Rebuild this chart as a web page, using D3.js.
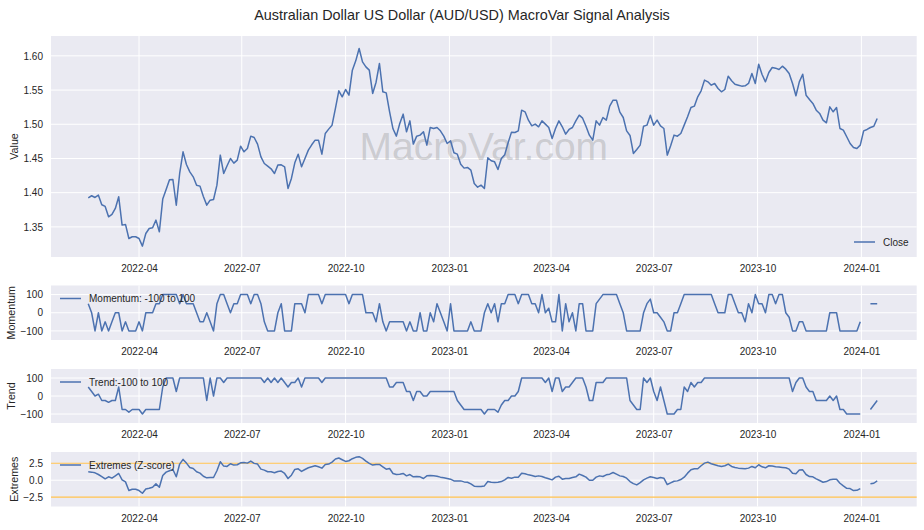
<!DOCTYPE html>
<html><head><meta charset="utf-8">
<script src="https://cdn.jsdelivr.net/npm/d3@7"></script>
<style>body{margin:0;background:#fff}svg{display:block}</style>
</head><body><svg id="c" width="924" height="530"></svg>
<script>
const titleText = "Australian Dollar US Dollar (AUD/USD) MacroVar Signal Analysis";
const dates = [
"2022-02-15","2022-02-18","2022-02-21","2022-02-24","2022-02-27",
"2022-03-02","2022-03-05","2022-03-08","2022-03-11","2022-03-14","2022-03-17","2022-03-20","2022-03-23","2022-03-26","2022-03-29",
"2022-04-01","2022-04-04","2022-04-07","2022-04-10","2022-04-13","2022-04-16","2022-04-19","2022-04-22","2022-04-25","2022-04-28",
"2022-05-01","2022-05-04","2022-05-07","2022-05-10","2022-05-13","2022-05-16","2022-05-19","2022-05-22","2022-05-25","2022-05-28","2022-05-31",
"2022-06-03","2022-06-06","2022-06-09","2022-06-12","2022-06-15","2022-06-18","2022-06-21","2022-06-24","2022-06-27","2022-06-30",
"2022-07-03","2022-07-06","2022-07-09","2022-07-12","2022-07-15","2022-07-18","2022-07-21","2022-07-24","2022-07-27","2022-07-30",
"2022-08-02","2022-08-05","2022-08-08","2022-08-11","2022-08-14","2022-08-17","2022-08-20","2022-08-23","2022-08-26","2022-08-29",
"2022-09-01","2022-09-04","2022-09-07","2022-09-10","2022-09-13","2022-09-16","2022-09-19","2022-09-22","2022-09-25","2022-09-28",
"2022-10-01","2022-10-04","2022-10-07","2022-10-10","2022-10-13","2022-10-16","2022-10-19","2022-10-22","2022-10-25","2022-10-28","2022-10-31",
"2022-11-03","2022-11-06","2022-11-09","2022-11-12","2022-11-15","2022-11-18","2022-11-21","2022-11-24","2022-11-27","2022-11-30",
"2022-12-03","2022-12-06","2022-12-09","2022-12-12","2022-12-15","2022-12-18","2022-12-21","2022-12-24","2022-12-27","2022-12-30",
"2023-01-02","2023-01-05","2023-01-08","2023-01-11","2023-01-14","2023-01-17","2023-01-20","2023-01-23","2023-01-26","2023-01-29",
"2023-02-01","2023-02-04","2023-02-07","2023-02-10","2023-02-13","2023-02-16","2023-02-19","2023-02-22","2023-02-25","2023-02-28",
"2023-03-03","2023-03-06","2023-03-09","2023-03-12","2023-03-15","2023-03-18","2023-03-21","2023-03-24","2023-03-27","2023-03-30",
"2023-04-02","2023-04-05","2023-04-08","2023-04-11","2023-04-14","2023-04-17","2023-04-20","2023-04-23","2023-04-26","2023-04-29",
"2023-05-02","2023-05-05","2023-05-08","2023-05-11","2023-05-14","2023-05-17","2023-05-20","2023-05-23","2023-05-26","2023-05-29",
"2023-06-01","2023-06-04","2023-06-07","2023-06-10","2023-06-13","2023-06-16","2023-06-19","2023-06-22","2023-06-25","2023-06-28",
"2023-07-01","2023-07-04","2023-07-07","2023-07-10","2023-07-13","2023-07-16","2023-07-19","2023-07-22","2023-07-25","2023-07-28","2023-07-31",
"2023-08-03","2023-08-06","2023-08-09","2023-08-12","2023-08-15","2023-08-18","2023-08-21","2023-08-24","2023-08-27","2023-08-30",
"2023-09-02","2023-09-05","2023-09-08","2023-09-11","2023-09-14","2023-09-17","2023-09-20","2023-09-23","2023-09-26","2023-09-29",
"2023-10-02","2023-10-05","2023-10-08","2023-10-11","2023-10-14","2023-10-17","2023-10-20","2023-10-23","2023-10-26","2023-10-29",
"2023-11-01","2023-11-04","2023-11-07","2023-11-10","2023-11-13","2023-11-16","2023-11-19","2023-11-22","2023-11-25","2023-11-28",
"2023-12-01","2023-12-04","2023-12-07","2023-12-10","2023-12-13","2023-12-16","2023-12-19","2023-12-22","2023-12-25","2023-12-28","2023-12-31",
"2024-01-03","2024-01-06","2024-01-09","2024-01-12","2024-01-15"];
const closeValues = [
1.3925,1.3955,1.3930,1.3964,1.3823,1.3799,1.3648,1.3682,1.3770,1.3940,
1.3526,1.3536,1.3331,1.3356,1.3356,1.3331,1.3219,1.3404,1.3477,1.3487,
1.3599,1.3429,1.3906,1.4047,1.4188,1.4193,1.3818,1.4281,1.4597,1.4412,
1.4305,1.4232,1.4110,1.4096,1.3945,1.3818,1.3891,1.3901,1.4110,1.4549,
1.4281,1.4393,1.4500,1.4432,1.4476,1.4680,1.4597,1.4646,1.4826,1.4807,
1.4710,1.4524,1.4427,1.4388,1.4349,1.4281,1.4403,1.4408,1.4378,1.4062,
1.4208,1.4437,1.4563,1.4378,1.4500,1.4622,1.4700,1.4768,1.4768,1.4563,
1.4865,1.4929,1.4987,1.5231,1.5489,1.5401,1.5508,1.5425,1.5791,1.5927,
1.6107,1.5912,1.5839,1.5791,1.5450,1.5615,1.5888,1.5474,1.5459,1.5182,
1.4934,1.4826,1.5011,1.5148,1.4890,1.5050,1.4710,1.4826,1.4841,1.4890,
1.4695,1.4953,1.4938,1.4953,1.4904,1.4826,1.4719,1.4758,1.4583,1.4563,
1.4417,1.4359,1.4369,1.4330,1.4135,1.4081,1.4110,1.4062,1.4510,1.4466,
1.4451,1.4339,1.4500,1.4554,1.4729,1.4885,1.4880,1.4904,1.5206,1.5182,
1.5060,1.4977,1.5002,1.4963,1.5050,1.5002,1.4953,1.4792,1.4938,1.5050,
1.4963,1.4856,1.4924,1.4953,1.5050,1.5133,1.5089,1.4972,1.4841,1.4768,
1.5050,1.4987,1.5099,1.5060,1.5265,1.5352,1.5352,1.5177,1.5099,1.4904,
1.4836,1.4573,1.4632,1.4695,1.4972,1.4987,1.5133,1.4987,1.5060,1.4977,
1.4938,1.4549,1.4685,1.4841,1.4826,1.4865,1.4987,1.5109,1.5245,1.5265,
1.5401,1.5489,1.5645,1.5620,1.5571,1.5596,1.5523,1.5474,1.5508,1.5703,
1.5635,1.5586,1.5571,1.5557,1.5562,1.5596,1.5742,1.5596,1.5878,1.5727,
1.5620,1.5757,1.5830,1.5820,1.5800,1.5849,1.5805,1.5742,1.5596,1.5416,
1.5620,1.5732,1.5425,1.5362,1.5304,1.5206,1.5158,1.5060,1.5021,1.5255,
1.5182,1.5245,1.4938,1.4914,1.4817,1.4719,1.4661,1.4646,1.4695,1.4904,
1.4924,1.4953,1.4972,1.5084];
const momentumValues = [
50,0,-100,0,-100,-50,-100,-50,0,0,
-100,-50,-100,-100,-100,-50,-100,0,0,0,
50,50,100,100,100,100,100,50,100,50,
50,50,0,-50,-50,0,-50,-100,50,100,
100,50,0,50,50,100,100,100,50,100,
100,50,-50,-100,-100,-100,0,50,-100,-100,
-100,50,50,50,0,100,100,100,100,50,
100,100,100,100,100,100,100,50,100,100,
100,100,0,0,0,-50,50,-50,-100,-50,
-50,-50,-50,-50,-100,-50,-100,-100,0,-100,
-100,0,-50,50,0,-50,-100,50,-100,-100,
-100,-100,-100,-50,-100,-100,-100,0,50,0,
50,-50,50,50,100,100,100,50,100,100,
100,50,50,0,100,0,25,-50,-50,100,
-100,50,-50,0,-100,50,50,-100,-100,-100,
50,75,100,100,100,100,100,50,0,-100,
-100,-100,-100,-100,0,50,75,0,0,-25,
-50,-100,-100,0,0,50,100,100,100,100,
100,100,100,100,100,50,0,0,0,100,
100,50,0,0,-50,50,0,100,50,50,
0,100,100,50,100,100,0,-25,-100,-100,
-50,-50,-100,-100,-100,-100,-100,-100,-100,0,
0,0,-100,-100,-100,-100,-100,-100,-50,null,
null,50,50,50];
const trendValues = [
50,25,0,10,-25,-25,-35,-25,-25,50,
-75,-75,-90,-75,-75,-75,-100,-75,-75,-75,
-75,-75,50,100,100,100,25,100,100,100,
100,100,100,100,100,-25,100,0,100,100,
75,100,100,100,100,100,100,100,100,100,
100,100,75,100,75,100,75,100,75,50,
75,75,100,50,100,100,100,100,100,75,
100,100,100,100,100,100,100,100,100,100,
100,100,100,100,100,100,100,100,100,50,
50,75,75,75,25,25,-25,25,25,0,
0,25,25,25,25,25,25,25,25,-25,
-50,-75,-75,-75,-75,-75,-75,-100,-75,-75,
-75,-90,-50,-25,-25,0,0,25,100,100,
100,100,100,100,100,75,100,25,100,100,
25,50,50,75,100,100,100,50,-25,-25,
75,75,75,100,100,100,100,100,100,100,
-25,-50,-75,-75,100,75,100,25,-25,50,
-25,-100,-100,-100,-75,-75,50,25,75,50,
75,75,100,100,100,100,100,100,100,100,
100,100,100,100,100,100,100,100,100,100,
100,100,100,100,100,100,100,100,25,75,
100,100,50,25,25,-25,-25,-25,-25,0,
-25,0,-75,-75,-100,-100,-100,-100,-100,null,
null,-75,-50,-25];
const extremesValues = [
1.24,1.19,1.09,0.84,0.54,0.20,0.50,0.30,0.64,0.99,
0.05,-0.25,-1.53,-1.34,-1.34,-1.53,-1.93,-1.29,-1.19,-1.04,
-0.54,-1.04,0.69,1.19,1.39,1.58,0.50,2.38,3.07,2.52,
1.88,1.73,1.24,1.04,0.59,0.35,0.40,0.40,1.39,2.72,
2.08,2.03,2.43,2.23,2.28,2.57,2.62,2.52,2.82,2.48,
2.38,1.63,1.49,1.24,1.24,1.09,1.29,1.34,0.99,0.25,
0.74,1.58,1.68,1.29,1.58,1.83,1.98,2.13,1.98,1.78,
2.33,2.38,2.67,3.12,3.27,3.02,2.77,2.87,3.17,3.37,
3.47,3.22,2.82,2.48,2.23,2.33,2.33,1.98,1.63,1.73,
0.99,0.84,0.89,0.99,0.64,0.84,0.50,0.54,0.50,0.25,
0.64,0.69,0.64,0.59,0.45,0.35,0.25,0.15,-0.10,-0.10,
-0.10,-0.25,-0.30,-0.54,-0.89,-0.94,-0.94,-0.84,-0.20,-0.30,
-0.35,-0.30,-0.20,0.05,0.40,0.30,0.45,0.45,1.04,0.94,
0.79,0.69,0.54,0.64,0.54,0.35,0.20,0.05,0.45,0.59,
0.15,0.25,0.25,0.40,0.50,0.89,0.69,0.45,0.00,0.00,
0.45,0.64,0.54,0.79,0.89,1.14,0.89,0.64,0.54,0.30,
-0.20,-0.50,-0.69,-0.35,0.05,0.30,0.50,0.40,0.25,0.40,
0.30,-0.64,-0.40,-0.15,-0.10,0.10,0.45,1.04,1.53,1.68,
1.68,2.13,2.52,2.67,2.43,2.28,2.13,2.03,2.13,2.38,
2.03,1.88,1.78,1.73,1.68,1.78,2.03,1.83,2.28,1.98,
1.83,2.13,2.08,1.98,1.93,1.88,1.83,1.63,1.04,0.94,
1.49,1.53,0.84,0.54,0.50,0.20,-0.05,-0.30,-0.20,0.05,
0.15,0.15,-0.45,-0.84,-1.19,-1.24,-1.53,-1.49,-1.24,null,
null,-0.54,-0.45,-0.10];
const xTickLabels = ["2022-04","2022-07","2022-10","2023-01","2023-04","2023-07","2023-10","2024-01"];
const xDomain = ["2022-01-13","2024-02-19"];
const valueTicks = [1.35,1.40,1.45,1.50,1.55,1.60];
const signalTicks = [-100,0,100];
const extremeTicks = [-2.5,0,2.5];
const extremeBands = [2.5,-2.5];
const seriesNames = ["Close","Momentum: -100 to 100","Trend:-100 to 100","Extremes (Z-score)"];
const axisLabels = ["Value","Momentum","Trend","Extremes"];

const FONT = '"Liberation Sans", Arial, Helvetica, sans-serif';
const TXT = "#262626";
const BLUE = "#4C72B0";
const parse = d3.utcParse("%Y-%m-%d");
const parseM = d3.utcParse("%Y-%m");
const rows = dates.map((d, i) => ({
  date: parse(d), close: closeValues[i], momentum: momentumValues[i],
  trend: trendValues[i], extremes: extremesValues[i]
}));
const xTicks = xTickLabels.map(parseM);
const x = d3.scaleUtc().domain(xDomain.map(parse)).range([51, 916.7]);
const [X0, X1] = x.range();

const svg = d3.select("#c").attr("font-family", FONT);
svg.append("rect").attr("width", 924).attr("height", 530).attr("fill", "#fff");
svg.append("text").attr("x", 462).attr("y", 20).attr("text-anchor", "middle")
  .attr("font-size", 14.4).attr("fill", TXT).text(titleText);

const panels = [
  {key: "close", top: 36, bottom: 257, domain: [1.306, 1.629], ticks: valueTicks, fmt: d3.format(".2f"), labelX: 14, legendRight: true},
  {key: "momentum", top: 285.5, bottom: 340, domain: [-150, 150], ticks: signalTicks, fmt: d3.format("d"), labelX: 11.5},
  {key: "trend", top: 369, bottom: 423, domain: [-150, 150], ticks: signalTicks, fmt: d3.format("d"), labelX: 11},
  {key: "extremes", top: 452, bottom: 506.5, domain: [-3.88, 4.16], ticks: extremeTicks, fmt: d3.format(".1f"), labelX: 14}
];

panels.forEach((p, idx) => {
  const y = d3.scaleLinear().domain(p.domain).range([p.bottom, p.top]);
  const g = svg.append("g");
  g.append("rect").attr("x", X0).attr("y", p.top).attr("width", X1 - X0)
    .attr("height", p.bottom - p.top).attr("fill", "#EAEAF2");
  g.append("g").selectAll("line").data(xTicks).join("line")
    .attr("x1", d => x(d)).attr("x2", d => x(d)).attr("y1", p.top).attr("y2", p.bottom)
    .attr("stroke", "#fff").attr("stroke-width", 1);
  g.append("g").selectAll("line").data(p.ticks).join("line")
    .attr("x1", X0).attr("x2", X1).attr("y1", d => y(d)).attr("y2", d => y(d))
    .attr("stroke", "#fff").attr("stroke-width", 1);

  if (p.key === "close") {
    g.append("text").attr("x", (X0 + X1) / 2).attr("y", (p.top + p.bottom) / 2)
      .attr("text-anchor", "middle").attr("dy", "0.35em").attr("font-size", 39)
      .attr("fill", "#808080").attr("fill-opacity", 0.3).text("MacroVar.com");
  }
  if (p.key === "extremes") {
    g.append("g").selectAll("line").data(extremeBands).join("line")
      .attr("x1", X0).attr("x2", X1).attr("y1", d => y(d)).attr("y2", d => y(d))
      .attr("stroke", "#FFA500").attr("stroke-opacity", 0.7).attr("stroke-width", 1.1);
  }

  const xa = svg.append("g").attr("transform", `translate(0,${p.bottom})`)
    .call(d3.axisBottom(x).tickValues(xTicks).tickFormat(d3.utcFormat("%Y-%m")).tickSize(0).tickPadding(8));
  xa.select(".domain").remove();
  xa.attr("font-family", FONT).attr("font-size", 10);
  xa.selectAll("text").attr("fill", TXT);

  const ya = svg.append("g").attr("transform", `translate(${X0},0)`)
    .call(d3.axisLeft(y).tickValues(p.ticks).tickFormat(p.fmt).tickSize(0).tickPadding(8));
  ya.select(".domain").remove();
  ya.attr("font-family", FONT).attr("font-size", 10);
  ya.selectAll("text").attr("fill", TXT);

  const line = d3.line().defined(d => d[p.key] != null)
    .x(d => x(d.date)).y(d => y(d[p.key]));
  g.append("path").datum(rows).attr("d", line).attr("fill", "none")
    .attr("stroke", BLUE).attr("stroke-width", 1.5).attr("stroke-linejoin", "round");

  svg.append("text").attr("transform", `translate(${p.labelX},${(p.top + p.bottom) / 2}) rotate(-90)`)
    .attr("text-anchor", "middle").attr("dy", "0.35em").attr("font-size", 10.7)
    .attr("fill", TXT).text(axisLabels[idx]);

  let lx, ly;
  if (p.legendRight) { lx = 854; ly = 242; } else { lx = 60; ly = p.top + 13; }
  const lg = svg.append("g");
  lg.append("line").attr("x1", lx).attr("x2", lx + 21).attr("y1", ly).attr("y2", ly)
    .attr("stroke", BLUE).attr("stroke-width", 1.5);
  lg.append("text").attr("x", lx + 29).attr("y", ly).attr("dy", "0.35em")
    .attr("font-size", 10).attr("fill", TXT).text(seriesNames[idx]);
});
</script></body></html>
